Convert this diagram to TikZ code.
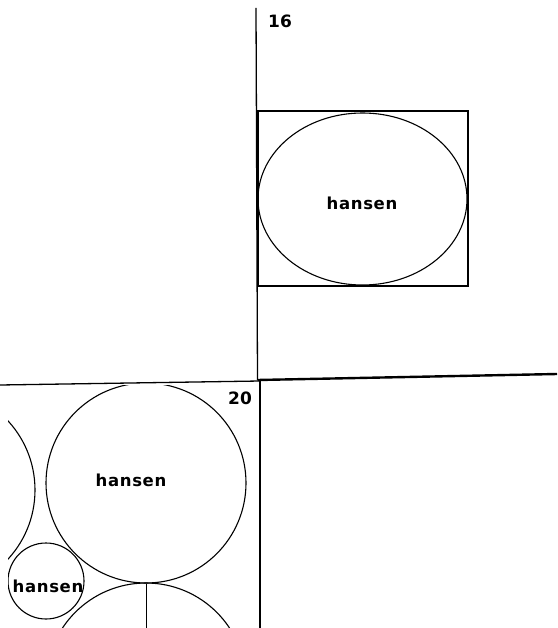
\documentclass[tikz,border=0pt]{standalone}
\usepackage{fontspec}
\setmainfont{DejaVu Sans}
\newfontfamily\spacedfont[LetterSpace=4]{DejaVu Sans}
\usetikzlibrary{shapes.geometric}
\begin{document}
\begin{tikzpicture}[x=1pt,y=-1pt,
  shape line/.style={draw=black,line width=1.1pt},
  label text/.style={font=\spacedfont\bfseries\fontsize{16.5}{16.5}\selectfont,inner sep=0pt},
  num text/.style={font=\bfseries\fontsize{17}{17}\selectfont,inner sep=0pt},
  thin rule/.style={draw=black,line width=1.3pt},
  thick rule/.style={draw=black,line width=2.4pt}]
\useasboundingbox (0,0) rectangle (557,628);
% upper part
\coordinate (vtop) at (256,8);
\coordinate (vmid) at (257.5,380);
\coordinate (hright) at (557,374);
\coordinate (hleft) at (0,385);
\coordinate (vbot) at (260,628);
\coordinate (vjoin) at (260,381);
\node[shape line,rectangle,minimum width=210pt,minimum height=175pt,inner sep=0pt] (box16) at (363,198.5) {};
\node[shape line,ellipse,minimum width=209pt,minimum height=172pt,inner sep=0pt] (ell16) at (362.5,199) {};
\node[label text] (t16) at (362,203) {hansen};
\node[num text] (n16) at (280,21) {16};
\draw[thin rule] (vtop) -- (vmid);
\draw[thick rule] (vmid) -- (hright);
% lower part
\draw[thin rule] (hleft) -- (vjoin);
\draw[thick rule] (vjoin) -- (vbot);
\node[num text] (n20) at (240,398) {20};
\begin{scope}
\clip (8,385) rectangle (258,628);
\node[shape line,circle,minimum size=204pt,inner sep=0pt] (cleft) at (-67,490) {};
\node[shape line,circle,minimum size=200pt,inner sep=0pt] (cbig) at (146,483) {};
\node[shape line,circle,minimum size=200pt,inner sep=0pt] (cbot) at (146,683) {};
\node[shape line,circle,minimum size=76pt,inner sep=0pt] (csmall) at (46,581) {};
\coordinate (dropend) at (146,628);
\draw[draw=black,line width=0.8pt] (cbig.south) -- (dropend);
\end{scope}
\node[label text] (tbig) at (131,480) {hansen};
\node[label text] (tsmall) at (48,586) {hansen};
\end{tikzpicture}
\end{document}
